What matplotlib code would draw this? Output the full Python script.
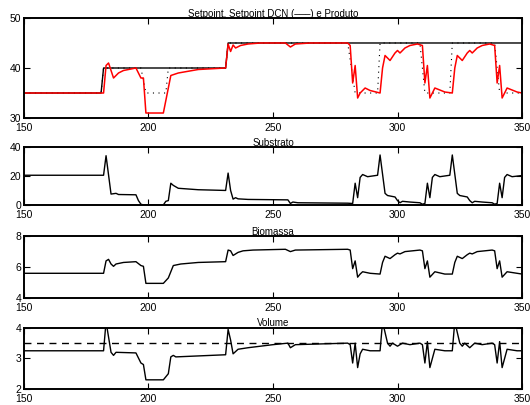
import matplotlib
matplotlib.use('Agg')
from matplotlib import pyplot as plt

plt.rcParams['font.family'] = ['Liberation Sans', 'DejaVu Sans']
plt.rcParams['font.size'] = 7.5

# Setpoint (solid) and Setpoint DCN (dotted)
t_sp = [150, 181, 182, 231, 232, 350]
sp = [35, 35, 40, 40, 45, 45]

t_dcn = [150, 181, 182, 197, 199, 207, 208, 231, 232, 280, 283, 292, 293,
         309, 311, 321, 322, 339, 341, 350]
dcn = [35, 35, 40, 40, 35, 35, 40, 40, 45, 45, 35, 35, 45,
       45, 35, 35, 45, 45, 35, 35]

# Produto
t_p = [150, 182, 183, 184, 186, 188, 190, 195, 197, 198, 199, 206, 207, 209,
       212, 220, 231, 232, 233, 234, 235, 237, 240, 245, 255, 257, 259, 265,
       280, 281, 282, 283, 284, 285, 287, 289, 293, 294, 295, 297, 299, 300,
       301, 303, 305, 308, 310, 311, 312, 313, 315, 319, 322, 323, 324, 326,
       328, 329, 330, 332, 334, 337, 339, 340, 341, 342, 344, 348, 350]
produto = [35, 35, 40.5, 41, 38, 39, 39.5, 40, 38, 38, 31, 31, 33.5, 38.5,
           39, 39.7, 40, 44.8, 43.3, 44.6, 44, 44.5, 44.8, 45, 45, 44.2, 44.8, 45,
           45, 44.5, 37, 40.5, 34, 35, 36, 35.5, 35, 40, 42.5, 41.5, 43, 43.5,
           43, 44, 44.5, 44.8, 44.5, 37, 40.5, 34, 36, 35.2, 35, 40, 42.5, 41.5,
           43, 43.5, 43, 44, 44.5, 44.8, 44.5, 37, 40.5, 34, 36, 35.2, 35]

# Substrato
t_s = [150, 182, 183, 185, 187, 188, 195, 196, 197, 198, 206, 207, 208, 209,
       210, 212, 220, 231, 232, 233, 234, 235, 236, 240, 256, 257, 258, 260,
       280, 282, 283, 284, 285, 286, 288, 292, 293, 295, 296, 299, 300, 301,
       302, 305, 309, 310, 311, 312, 313, 314, 315, 317, 321, 322, 324, 325,
       328, 329, 330, 331, 334, 338, 339, 340, 341, 342, 343, 344, 346, 350]
substrato = [20.5, 20.5, 34, 7.5, 8, 7.2, 7, 3, 0.5, 0, 0, 2.5, 3, 15,
             13.5, 11.5, 10.5, 10, 22, 10, 4, 5, 4.2, 3.8, 3.5, 1, 2, 1.5,
             1.2, 1, 15, 5, 19, 21, 19.5, 20.5, 34.5, 8, 6.5, 5.5, 3, 1.5,
             2.5, 2, 1.5, 0.5, 1, 15, 5, 19, 21, 19.5, 20.5, 34.5, 8, 6.5,
             5.5, 3, 1.5, 2.5, 2, 1.5, 0.5, 1, 15, 5, 19, 21, 19.5, 20.3]

# Biomassa
t_b = [150, 182, 183, 184, 185, 186, 187, 190, 195, 197, 198, 199, 206, 208,
       210, 213, 220, 231, 232, 233, 234, 236, 238, 242, 255, 257, 259, 280,
       281, 282, 283, 284, 285, 286, 289, 293, 294, 295, 297, 299, 300, 301,
       303, 306, 309, 310, 311, 312, 313, 315, 319, 322, 323, 324, 326, 328,
       329, 330, 332, 335, 338, 339, 340, 341, 342, 344, 348, 350]
biomassa = [5.6, 5.6, 6.4, 6.5, 6.2, 6.05, 6.2, 6.3, 6.35, 6.1, 6.05, 4.95,
            4.95, 5.3, 6.1, 6.2, 6.3, 6.35, 7.1, 7.05, 6.75, 6.95, 7.05, 7.1,
            7.15, 7.0, 7.1, 7.15, 7.1, 5.9, 6.4, 5.35, 5.55, 5.7, 5.6, 5.55,
            6.3, 6.7, 6.55, 6.8, 6.9, 6.85, 7.0, 7.05, 7.1, 7.05, 5.9, 6.4,
            5.35, 5.7, 5.55, 5.55, 6.3, 6.7, 6.55, 6.8, 6.9, 6.85, 7.0, 7.05,
            7.1, 7.05, 5.9, 6.4, 5.35, 5.7, 5.6, 5.55]

# Volume
t_v = [150, 182, 183, 185, 186, 187, 195, 197, 198, 199, 206, 208, 209, 210,
       211, 231, 232, 233, 234, 236, 240, 250, 256, 257, 259, 280, 281, 282,
       283, 284, 285, 286, 289, 293, 294, 296, 297, 298, 300, 302, 305, 309,
       310, 311, 312, 313, 315, 319, 322, 323, 325, 326, 327, 329, 331, 334,
       338, 339, 340, 341, 342, 344, 348, 350]
volume = [3.25, 3.25, 4.2, 3.2, 3.1, 3.2, 3.18, 2.85, 2.8, 2.3, 2.3, 2.5,
          3.05, 3.1, 3.05, 3.12, 3.95, 3.6, 3.15, 3.3, 3.35, 3.45, 3.5, 3.35,
          3.45, 3.5, 3.45, 2.85, 3.5, 2.7, 3.15, 3.3, 3.25, 3.25, 4.2, 3.5,
          3.4, 3.5, 3.4, 3.5, 3.45, 3.5, 3.45, 2.85, 3.55, 2.7, 3.3, 3.25,
          3.25, 4.2, 3.5, 3.4, 3.5, 3.35, 3.5, 3.45, 3.5, 3.45, 2.85, 3.55,
          2.7, 3.3, 3.25, 3.25]
v_ref = 3.5

fig = plt.figure(figsize=(5.3, 4.05), dpi=100)
L, W = 0.045, 0.94
ax1 = fig.add_axes([L, 0.7086, W, 0.247])
ax2 = fig.add_axes([L, 0.494, W, 0.143])
ax3 = fig.add_axes([L, 0.264, W, 0.153])
ax4 = fig.add_axes([L, 0.0395, W, 0.151])

ax1.plot(t_sp, sp, color='black', lw=1.0)
ax1.plot(t_dcn, dcn, color='black', lw=0.8, ls=(0, (1, 4)))
ax1.plot(t_p, produto, color='red', lw=1.1)
ax1.set_ylim(30, 50)
ax1.set_yticks([30, 40, 50])
ax1.set_title('Setpoint, Setpoint DCN (–––) e Produto', fontsize=7, pad=1)

ax2.plot(t_s, substrato, color='black', lw=1.0)
ax2.set_ylim(0, 40)
ax2.set_yticks([0, 20, 40])
ax2.set_title('Substrato', fontsize=7, pad=1)

ax3.plot(t_b, biomassa, color='black', lw=1.0)
ax3.set_ylim(4, 8)
ax3.set_yticks([4, 6, 8])
ax3.set_title('Biomassa', fontsize=7, pad=1)

ax4.plot(t_v, volume, color='black', lw=1.0)
ax4.axhline(v_ref, color='black', lw=1.0, ls=(0, (5, 4)))
ax4.set_ylim(2, 4)
ax4.set_yticks([2, 3, 4])
ax4.set_title('Volume', fontsize=7, pad=1)

for ax in (ax1, ax2, ax3, ax4):
    ax.set_xlim(150, 350)
    ax.set_xticks([150, 200, 250, 300, 350])
    ax.tick_params(direction='in', top=True, right=True, length=4,
                   width=0.8, labelsize=7.5)
    ax.tick_params(axis='x', pad=3.5)
    ax.tick_params(axis='y', pad=2)
    for s in ax.spines.values():
        s.set_linewidth(1.4)

fig.savefig('out.png', dpi=100)
